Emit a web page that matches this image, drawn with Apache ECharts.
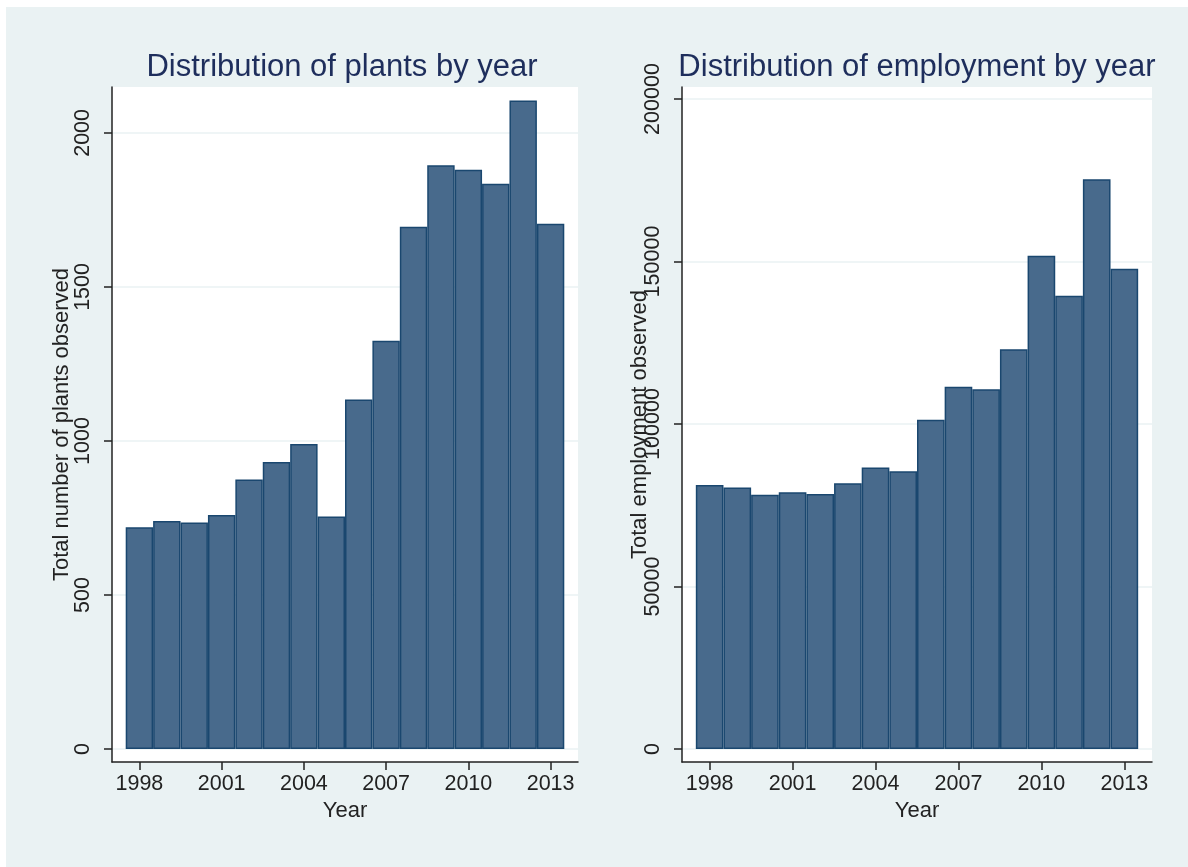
<!DOCTYPE html>
<html>
<head>
<meta charset="utf-8">
<script src="https://cdn.jsdelivr.net/npm/echarts@6/dist/echarts.min.js"></script>
<style>
  html, body { margin: 0; padding: 0; background: #ffffff; }
  /* the light panel starts a few px in, like the cropped figure */
  #chart { position: absolute; left: 6px; top: 7px; width: 1182px; height: 860px; }
</style>
</head>
<body>
<div id="chart"></div>
<script>
  // data
  const years = [1998, 1999, 2000, 2001, 2002, 2003, 2004, 2005, 2006, 2007, 2008, 2009, 2010, 2011, 2012, 2013]
  const plants = [720, 740, 735, 760, 875, 932, 990, 755, 1135, 1325, 1695, 1895, 1880, 1835, 2105, 1705]
  const employment = [81200, 80500, 78200, 79000, 78500, 81800, 86600, 85500, 101300, 111500, 110700, 123000, 151800, 139500, 175300, 147800]
  const yearTicks = [1998, 2001, 2004, 2007, 2010, 2013]
  const plantTicks = [0, 500, 1000, 1500, 2000]
  const employmentTicks = [0, 50000, 100000, 150000, 200000]

  const FONT = "'Liberation Sans', Arial, sans-serif"
  const INK = '#222222'

  const chart = echarts.init(document.getElementById('chart'))

  // plain numbers, no thousands separator
  const plain = v => String(v)

  function xAxisFor(gridIndex) {
    return {
      type: 'value',
      gridIndex: gridIndex,
      min: 1997,
      max: 2014,
      name: 'Year',
      nameLocation: 'middle',
      nameGap: 36,
      nameTextStyle: { fontFamily: FONT, fontSize: 22, color: INK },
      axisLine: { show: true, onZero: false, lineStyle: { color: INK, width: 1.5 } },
      axisTick: { show: true, length: 8, customValues: yearTicks, lineStyle: { color: INK, width: 1.5 } },
      axisLabel: { customValues: yearTicks, formatter: plain, margin: 11, fontFamily: FONT, fontSize: 21.5, color: INK },
      splitLine: { show: false }
    }
  }

  function yAxisFor(gridIndex, name, min, max, ticks, nameGap) {
    return {
      type: 'value',
      gridIndex: gridIndex,
      min: min,
      max: max,
      name: name,
      nameLocation: 'middle',
      nameGap: nameGap,
      nameRotate: 90,
      nameMoveOverlap: false, // the original lets the title sit on the labels
      nameTextStyle: { fontFamily: FONT, fontSize: 22, color: INK },
      axisLine: { show: true, lineStyle: { color: INK, width: 1.5 } },
      axisTick: { show: true, length: 8, customValues: ticks, lineStyle: { color: INK, width: 1.5 } },
      axisLabel: { customValues: ticks, formatter: plain, rotate: 90, margin: 18, fontFamily: FONT, fontSize: 21.5, color: INK },
      splitLine: { show: true, lineStyle: { color: '#eaf2f3', width: 1.5 } }
    }
  }

  const barStyle = {
    color: '#486a8c',
    borderColor: '#1a476f',
    borderWidth: 1.5
  }

  const option = {
    backgroundColor: '#eaf2f3',
    animation: false,
    title: [
      {
        text: 'Distribution of plants by year',
        left: 331, top: 40, textAlign: 'center',
        textStyle: { fontFamily: FONT, fontSize: 31, fontWeight: 'normal', color: '#1e2e5c' }
      },
      {
        text: 'Distribution of employment by year',
        left: 906, top: 40, textAlign: 'center',
        textStyle: { fontFamily: FONT, fontSize: 31, fontWeight: 'normal', color: '#1e2e5c' }
      }
    ],
    grid: [
      { left: 106, top: 80, width: 466, height: 675, show: true, backgroundColor: '#ffffff', borderWidth: 0 },
      { left: 676, top: 80, width: 470, height: 675, show: true, backgroundColor: '#ffffff', borderWidth: 0 }
    ],
    xAxis: [xAxisFor(0), xAxisFor(1)],
    yAxis: [
      yAxisFor(0, 'Total number of plants observed', -42, 2149, plantTicks, 39),
      yAxisFor(1, 'Total employment observed', -4000, 203700, employmentTicks, 31)
    ],
    series: [
      {
        type: 'bar',
        xAxisIndex: 0, yAxisIndex: 0,
        barCategoryGap: '0%',
        itemStyle: barStyle,
        data: years.map((y, i) => [y, plants[i]])
      },
      {
        type: 'bar',
        xAxisIndex: 1, yAxisIndex: 1,
        barCategoryGap: '0%',
        itemStyle: barStyle,
        data: years.map((y, i) => [y, employment[i]])
      }
    ]
  }

  chart.setOption(option)
</script>
</body>
</html>
